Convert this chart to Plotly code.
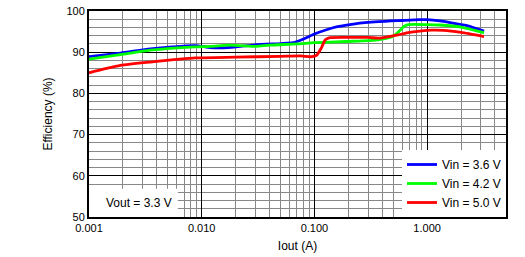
import plotly.graph_objects as go

# Data
blue_x = [0.001, 0.0019, 0.0035, 0.0055, 0.0088, 0.012, 0.017, 0.022, 0.03, 0.05, 0.065, 0.08, 0.1, 0.13, 0.16, 0.23, 0.37, 0.6, 0.85, 1.0, 1.3, 1.6, 2.0, 2.3, 3.2]
blue_y = [88.9, 89.8, 90.8, 91.3, 91.6, 91.1, 91.1, 91.4, 91.8, 92.1, 92.3, 93.2, 94.4, 95.5, 96.2, 96.9, 97.4, 97.7, 97.9, 97.9, 97.6, 97.2, 96.7, 96.4, 95.1]

green_x = [0.001, 0.0019, 0.0035, 0.0088, 0.012, 0.017, 0.022, 0.03, 0.04, 0.07, 0.1, 0.19, 0.3, 0.4, 0.5, 0.56, 0.62, 0.68, 1.0, 1.3, 2.0, 3.2]
green_y = [88.3, 89.4, 90.5, 91.3, 91.4, 91.7, 91.6, 91.4, 91.7, 92.0, 92.3, 92.6, 92.8, 93.2, 93.9, 95.0, 96.2, 96.7, 96.7, 96.6, 96.1, 94.7]

red_x = [0.001, 0.0014, 0.0019, 0.0035, 0.0088, 0.02, 0.05, 0.075, 0.095, 0.105, 0.115, 0.125, 0.135, 0.2, 0.3, 0.37, 0.45, 0.55, 0.7, 0.9, 1.1, 1.4, 2.0, 3.2]
red_y = [85.0, 86.0, 86.8, 87.6, 88.6, 88.8, 89.0, 89.1, 88.9, 89.3, 91.0, 93.0, 93.5, 93.6, 93.6, 93.4, 93.7, 94.2, 94.8, 95.2, 95.35, 95.3, 94.8, 93.8]

series_names = ["Vin = 3.6 V", "Vin = 4.2 V", "Vin = 5.0 V"]
series_colors = ["#0000FF", "#00FF00", "#FF0000"]

x_tickvals = [0.001, 0.01, 0.1, 1.0]
x_ticktext = ["0.001", "0.010", "0.100", "1.000"]
y_tickvals = [50, 60, 70, 80, 90, 100]

FONT = "Liberation Sans, Arial, sans-serif"

fig = go.Figure()
for xs, ys, name, col in zip([blue_x, green_x, red_x], [blue_y, green_y, red_y], series_names, series_colors):
    fig.add_trace(go.Scatter(x=xs, y=ys, mode="lines", name=name,
                             line=dict(color=col, width=2.8, shape="spline", smoothing=0.6)))

# White box for the Vout label
fig.add_shape(type="rect", xref="paper", yref="paper", x0=0.0, x1=0.213, y0=0.0, y1=0.137,
              fillcolor="white", line=dict(width=0), layer="above")
fig.add_annotation(xref="paper", yref="paper", x=0.036, y=0.068, xanchor="left", yanchor="middle",
                   text="Vout = 3.3 V", showarrow=False, font=dict(size=12, color="black", family=FONT))

fig.update_layout(
    width=525, height=257,
    margin=dict(l=89, r=19, t=5, b=40),
    paper_bgcolor="white", plot_bgcolor="white",
    font=dict(family=FONT, size=11, color="black"),
    showlegend=True,
    legend=dict(x=1, y=0, xanchor="right", yanchor="bottom", bgcolor="white",
                borderwidth=0, font=dict(size=12, family=FONT), tracegroupgap=0,
                itemwidth=30),
    xaxis=dict(type="log", range=[-3, 0.7], tickvals=x_tickvals, ticktext=x_ticktext,
               showgrid=True, gridcolor="black", gridwidth=1,
               minor=dict(dtick="D1", showgrid=True, gridcolor="#888888", gridwidth=1, ticks=""),
               showline=True, linecolor="black", linewidth=2, mirror=True, ticks="",
               zeroline=False,
               title=dict(text="Iout (A)", font=dict(size=12, family=FONT), standoff=8)),
    yaxis=dict(range=[50, 100], tickvals=y_tickvals,
               showgrid=True, gridcolor="black", gridwidth=1,
               minor=dict(dtick=2, showgrid=True, gridcolor="#888888", gridwidth=1, ticks=""),
               showline=True, linecolor="black", linewidth=2, mirror=True, ticks="",
               zeroline=False,
               title=dict(text="Efficiency (%)", font=dict(size=12, family=FONT), standoff=11)),
)

fig.write_html("out.html")
